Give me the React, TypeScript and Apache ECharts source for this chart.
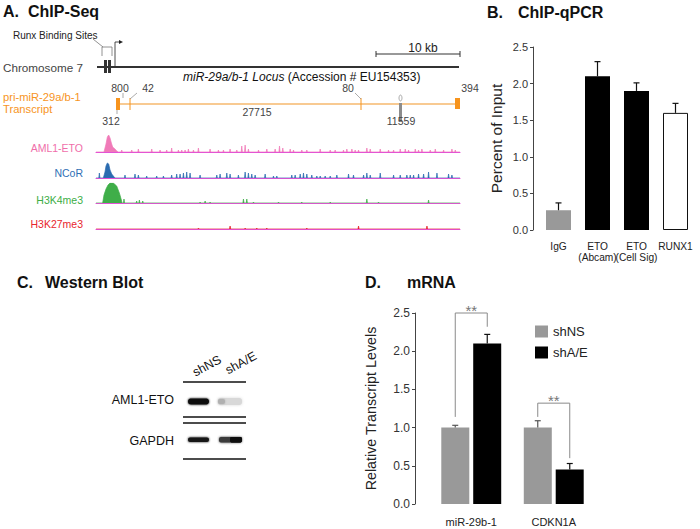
import React, { useEffect, useRef } from 'react';
import * as echarts from 'echarts';

// ---------- Panel A: ChIP-Seq tracks (position in kb, height in track units 0..20) ----------
const TRACK_KB = 43.3;
const trackNames = ['AML1-ETO', 'NCoR', 'H3K4me3', 'H3K27me3'];
const trackColors = ['#f07ab8', '#2b6cb0', '#3fae49', '#e31e24'];
const trackLabelColors = ['#f06eaa', '#2f6fb5', '#3cae45', '#e8262d'];

const amlProfile = [[0.95, 0], [1.19, 8], [1.35, 15], [1.51, 17], [1.67, 14], [1.83, 9], [1.98, 5], [2.26, 3], [2.46, 1], [2.66, 0]];
const amlSpikes = [[3.06, 2], [4.25, 2], [5.04, 3], [6.63, 3], [7.62, 2], [8.41, 2], [9.0, 4], [9.8, 2], [10.2, 2], [10.6, 2], [10.99, 3], [11.59, 2], [12.18, 4], [13.57, 3], [14.56, 2], [15.16, 2], [15.95, 3], [16.75, 2], [17.34, 6], [17.74, 7], [18.13, 3], [19.33, 2], [20.32, 3], [21.31, 3], [21.83, 6], [22.22, 4], [23.1, 3], [23.49, 2], [24.48, 2], [25.08, 2], [26.67, 3], [27.86, 2], [28.45, 2], [29.44, 2], [29.84, 3], [30.44, 3], [30.83, 2], [31.23, 2], [32.22, 4], [32.62, 3], [33.81, 3], [34.8, 2], [35.4, 2], [36.19, 3], [36.79, 3], [37.18, 2], [37.98, 3], [38.37, 2], [38.77, 3], [39.76, 2], [40.36, 3], [41.35, 2], [42.34, 3], [42.74, 2]];

const ncorProfile = [[0.87, 0], [1.07, 6], [1.19, 12], [1.35, 15], [1.51, 14], [1.67, 8], [1.87, 4], [2.06, 2], [2.26, 0]];
const ncorSpikes = [[0.4, 5], [3.45, 3], [4.64, 4], [5.04, 3], [6.03, 2], [7.22, 2], [8.02, 2], [9.0, 3], [9.6, 4], [10.0, 4], [10.4, 5], [10.79, 6], [11.19, 5], [12.38, 3], [14.37, 3], [14.76, 4], [15.56, 5], [15.95, 4], [16.94, 3], [17.74, 6], [18.13, 5], [18.53, 4], [18.93, 3], [20.12, 4], [21.11, 2], [21.51, 2], [23.29, 3], [23.69, 3], [24.29, 4], [24.68, 5], [25.08, 4], [25.67, 3], [26.27, 2], [26.67, 2], [27.26, 2], [27.86, 2], [28.65, 3], [30.04, 4], [30.63, 3], [31.83, 3], [32.22, 5], [32.62, 3], [33.81, 5], [35.4, 3], [36.19, 3], [36.98, 3], [37.38, 3], [37.78, 3], [38.37, 4], [38.97, 4], [39.56, 6], [40.56, 5], [41.94, 4], [42.34, 3]];

const h3k4Profile = [[0.79, 0], [0.95, 8], [1.19, 14], [1.43, 18], [1.67, 20], [2.06, 20], [2.46, 17], [2.78, 10], [3.02, 3], [3.1, 0]];
const h3k4Spikes = [[3.33, 4], [4.84, 2], [5.16, 3], [5.56, 2], [12.38, 1], [12.98, 2], [13.57, 1], [17.54, 4], [17.94, 4], [18.73, 1], [21.71, 1], [24.48, 1], [27.86, 1], [32.22, 4], [33.61, 1], [39.56, 3]];

const h3k27Profile: number[][] = [];
const h3k27Spikes = [[12.18, 1], [15.95, 3], [17.74, 1], [19.13, 1], [20.32, 1], [25.08, 1], [31.23, 3], [39.37, 3]];

// ---------- Panel B: ChIP-qPCR ----------
const chipCategories = ['IgG', 'ETO\n(Abcam)', 'ETO\n(Cell Sig)', 'RUNX1'];
const chipValues = [0.27, 2.1, 1.9, 1.6];
const chipErrTop = [0.37, 2.3, 2.01, 1.73];

// ---------- Panel D: mRNA ----------
const mrnaCategories = ['miR-29b-1', 'CDKN1A'];
const shNSValues = [1.0, 1.0];
const shNSErrTop = [1.03, 1.09];
const shAEValues = [2.1, 0.45];
const shAEErrTop = [2.22, 0.53];
// [category, left leg start, right leg end, top]
const sigBrackets = [[0, 1.14, 2.32, 2.5], [1, 1.14, 0.6, 1.32]];

const FONT = '"Liberation Sans", Arial, sans-serif';

function buildTrack(profile: number[][], spikes: number[][]) {
  const pts: number[][] = [[0, 0]];
  profile.forEach((p) => pts.push(p));
  spikes.forEach(([p, h]) => {
    pts.push([p - 0.07, 0], [p, h], [p + 0.07, 0]);
  });
  pts.push([TRACK_KB, 0]);
  pts.sort((a, b) => a[0] - b[0]);
  return pts;
}

const trackData = [
  buildTrack(amlProfile, amlSpikes),
  buildTrack(ncorProfile, ncorSpikes),
  buildTrack(h3k4Profile, h3k4Spikes),
  buildTrack(h3k27Profile, h3k27Spikes),
];

function errRender(offset: number, color: string) {
  return (params: any, api: any) => {
    const base = api.coord([api.value(0), api.value(1)]);
    const top = api.coord([api.value(0), api.value(2)]);
    const x = base[0] + offset;
    return {
      type: 'group',
      children: [
        { type: 'line', shape: { x1: x, y1: base[1], x2: x, y2: top[1] }, style: { stroke: color, lineWidth: 1.2 } },
        { type: 'line', shape: { x1: x - 3, y1: top[1], x2: x + 3, y2: top[1] }, style: { stroke: color, lineWidth: 1.2 } },
      ],
    };
  };
}

function bracketRender(params: any, api: any) {
  const i = api.value(0);
  const l = api.coord([i, api.value(1)]);
  const r = api.coord([i, api.value(2)]);
  const t = api.coord([i, api.value(3)]);
  const xl = l[0] - 16;
  const xr = l[0] + 16;
  return {
    type: 'group',
    children: [
      { type: 'polyline', shape: { points: [[xl, l[1]], [xl, t[1]], [xr, t[1]], [xr, r[1]]] }, style: { stroke: '#8a8a8a', lineWidth: 1, fill: null } },
      { type: 'text', style: { text: '**', x: (xl + xr) / 2, y: t[1] - 3, align: 'center', verticalAlign: 'middle', fill: '#777', fontSize: 15, fontFamily: FONT } },
    ],
  };
}

function txt(text: string, x: number, y: number, opts: any = {}) {
  const style: any = {
    text,
    x: 0,
    y: 0,
    fill: opts.fill || '#333',
    fontSize: opts.fontSize || 10,
    fontWeight: opts.fontWeight || 'normal',
    fontStyle: opts.fontStyle || 'normal',
    fontFamily: FONT,
    align: opts.align || 'left',
    verticalAlign: 'middle',
  };
  if (opts.rich) style.rich = opts.rich;
  return { type: 'text', x, y, rotation: opts.rotation || 0, style };
}

function ln(x1: number, y1: number, x2: number, y2: number, stroke: string, lineWidth = 1) {
  return { type: 'line', shape: { x1, y1, x2, y2 }, style: { stroke, lineWidth } };
}

function rect(x: number, y: number, width: number, height: number, fill: string, extra: any = {}) {
  return { type: 'rect', shape: { x, y, width, height, r: extra.r || 0 }, style: { fill, shadowBlur: extra.blur || 0, shadowColor: fill } };
}

export default function App() {
  const ref = useRef<HTMLDivElement>(null);
  useEffect(() => {
    if (!ref.current) return;
    const chart = echarts.init(ref.current, undefined, { renderer: 'svg' });
    const trackTops = [132, 158, 183, 209];

    const grids: any[] = trackTops.map((t) => ({ left: 96, top: t, width: 364, height: 20, outerBoundsMode: 'none' }));
    grids.push({ left: 539, top: 47, width: 156, height: 183, outerBoundsMode: 'none' });
    grids.push({ left: 430, top: 313, width: 165, height: 191, outerBoundsMode: 'none' });

    const xAxes: any[] = trackTops.map((_, i) => ({
      type: 'value', gridIndex: i, min: 0, max: TRACK_KB,
      axisLine: { show: true, onZero: true, lineStyle: { color: '#e352d6', width: 1 } },
      axisTick: { show: false }, axisLabel: { show: false }, splitLine: { show: false },
    }));
    xAxes.push({
      type: 'category', gridIndex: 4, data: chipCategories,
      axisLine: { show: false }, axisTick: { show: false },
      axisLabel: { interval: 0, margin: 11, fontSize: 10.2, lineHeight: 11, color: '#222', fontFamily: FONT },
    });
    xAxes.push({
      type: 'category', gridIndex: 5, data: mrnaCategories,
      axisLine: { show: false }, axisTick: { show: false },
      axisLabel: { interval: 0, margin: 12, fontSize: 11, color: '#222', fontFamily: FONT },
    });

    const yAxes: any[] = trackTops.map((_, i) => ({
      type: 'value', gridIndex: i, min: 0, max: 20, show: false,
    }));
    yAxes.push({
      type: 'value', gridIndex: 4, min: 0, max: 2.5, interval: 0.5, offset: 6,
      name: 'Percent of Input', nameLocation: 'middle', nameGap: 29, nameRotate: 90,
      nameTextStyle: { fontSize: 15.5, color: '#222', fontFamily: FONT },
      axisLine: { show: true, lineStyle: { color: '#444', width: 1 } },
      axisTick: { show: true, length: 3, lineStyle: { color: '#444' } },
      axisLabel: { margin: 5, fontSize: 11, color: '#333', fontFamily: FONT, formatter: (v: number) => v.toFixed(1) },
      splitLine: { show: false },
    });
    yAxes.push({
      type: 'value', gridIndex: 5, min: 0, max: 2.5, interval: 0.5, offset: 15,
      name: 'Relative Transcript Levels', nameLocation: 'middle', nameGap: 37, nameRotate: 90,
      nameTextStyle: { fontSize: 14.3, color: '#222', fontFamily: FONT },
      axisLine: { show: true, lineStyle: { color: '#444', width: 1 } },
      axisTick: { show: true, length: 3, lineStyle: { color: '#444' } },
      axisLabel: { margin: 5, fontSize: 12, color: '#333', fontFamily: FONT, formatter: (v: number) => v.toFixed(1) },
      splitLine: { show: false },
    });

    const series: any[] = trackData.map((d, i) => ({
      type: 'line', xAxisIndex: i, yAxisIndex: i, data: d, symbol: 'none',
      lineStyle: { color: trackColors[i], width: 0.7 },
      areaStyle: { color: trackColors[i], opacity: 1 },
      z: 3,
    }));

    series.push({
      type: 'bar', xAxisIndex: 4, yAxisIndex: 4, barWidth: 25,
      data: chipValues.map((v, i) => ({
        value: v,
        itemStyle: i === 0 ? { color: '#999999' } : i === 3 ? { color: '#ffffff', borderColor: '#111', borderWidth: 1 } : { color: '#000000' },
      })),
    });
    series.push({
      type: 'custom', xAxisIndex: 4, yAxisIndex: 4, z: 4,
      data: chipValues.map((v, i) => [i, v, chipErrTop[i]]),
      renderItem: errRender(0, '#111'),
    });

    series.push({
      name: 'shNS', type: 'bar', xAxisIndex: 5, yAxisIndex: 5, barWidth: 28, barGap: '14%',
      data: shNSValues, itemStyle: { color: '#999999' },
    });
    series.push({
      name: 'shA/E', type: 'bar', xAxisIndex: 5, yAxisIndex: 5, barWidth: 28, barGap: '14%',
      data: shAEValues, itemStyle: { color: '#000000' },
    });
    series.push({
      type: 'custom', xAxisIndex: 5, yAxisIndex: 5, z: 4,
      data: shNSValues.map((v, i) => [i, v, shNSErrTop[i]]),
      renderItem: errRender(-16, '#555'),
    });
    series.push({
      type: 'custom', xAxisIndex: 5, yAxisIndex: 5, z: 4,
      data: shAEValues.map((v, i) => [i, v, shAEErrTop[i]]),
      renderItem: errRender(16, '#111'),
    });
    series.push({
      type: 'custom', xAxisIndex: 5, yAxisIndex: 5, z: 4,
      data: sigBrackets, renderItem: bracketRender,
    });

    const orange = '#f7941d';
    const lightOrange = '#f6b86e';
    const graphic: any[] = [
      // titles
      txt('A.', 3, 11, { fontSize: 16, fontWeight: 'bold', fill: '#111' }),
      txt('ChIP-Seq', 28, 11, { fontSize: 16, fontWeight: 'bold', fill: '#111' }),
      txt('B.', 487, 12, { fontSize: 16, fontWeight: 'bold', fill: '#111' }),
      txt('ChIP-qPCR', 518, 12, { fontSize: 16, fontWeight: 'bold', fill: '#111' }),
      txt('C.', 17, 282, { fontSize: 16, fontWeight: 'bold', fill: '#111' }),
      txt('Western Blot', 45, 282, { fontSize: 16, fontWeight: 'bold', fill: '#111' }),
      txt('D.', 365, 282, { fontSize: 16, fontWeight: 'bold', fill: '#111' }),
      txt('mRNA', 407, 282, { fontSize: 16, fontWeight: 'bold', fill: '#111' }),

      // chromosome diagram
      txt('Runx Binding Sites', 13, 35, { fontSize: 10, fill: '#222' }),
      ln(93, 39, 103, 47, '#777', 0.8),
      { type: 'polyline', shape: { points: [[102, 56], [102, 47], [112, 47], [112, 56]] }, style: { stroke: '#777', lineWidth: 0.8, fill: null } },
      { type: 'polyline', shape: { points: [[115, 67], [115, 42], [120, 42]] }, style: { stroke: '#222', lineWidth: 0.8, fill: null } },
      { type: 'polygon', shape: { points: [[119, 40], [123, 42], [119, 44]] }, style: { fill: '#222' } },
      txt('Chromosome 7', 3, 67, { fontSize: 11.7, fill: '#444' }),
      ln(97, 67, 459, 67, '#333', 2),
      rect(104, 60, 3, 13, '#333'),
      rect(108, 60, 3, 13, '#333'),
      txt('10 kb', 423, 48, { fontSize: 12, fill: '#222', align: 'center' }),
      ln(376, 54, 460, 54, '#333', 1),
      ln(376, 51, 376, 57, '#333', 1),
      ln(460, 51, 460, 57, '#333', 1),
      txt('{i|miR-29a/b-1 Locus} (Accession # EU154353)', 183, 76.5, {
        fontSize: 12, fill: '#111',
        rich: { i: { fontStyle: 'italic', fontSize: 12, fill: '#111', fontFamily: FONT } },
      }),

      // transcript
      txt('pri-miR-29a/b-1', 3, 97, { fontSize: 11.2, fill: orange }),
      txt('Transcript', 3, 109, { fontSize: 11.2, fill: orange }),
      ln(118, 104, 456, 104, lightOrange, 1.3),
      rect(116, 98, 4, 12, orange),
      rect(455, 98, 5, 11, orange),
      ln(130, 98, 130, 110, orange, 1),
      ln(361, 98, 361, 110, orange, 1),
      rect(399, 103, 3, 19, '#8c8c8c'),
      { type: 'ellipse', shape: { cx: 400.5, cy: 98, rx: 1.5, ry: 3 }, style: { stroke: '#999', lineWidth: 0.8, fill: '#fff' } },
      ln(123, 93, 123, 98, '#888', 0.7),
      ln(137, 93, 130, 99, '#888', 0.7),
      ln(355, 93, 361, 99, '#888', 0.7),
      ln(117, 110, 117, 114, '#888', 0.7),
      txt('800', 120, 88, { fontSize: 10.5, fill: '#444', align: 'center' }),
      txt('42', 148, 88, { fontSize: 10.5, fill: '#444', align: 'center' }),
      txt('80', 348, 88, { fontSize: 10.5, fill: '#444', align: 'center' }),
      txt('394', 470, 88, { fontSize: 10.5, fill: '#444', align: 'center' }),
      txt('312', 111, 121, { fontSize: 10.5, fill: '#444', align: 'center' }),
      txt('27715', 257, 112, { fontSize: 10.5, fill: '#444', align: 'center' }),
      txt('11559', 401, 121, { fontSize: 10.5, fill: '#444', align: 'center' }),

      // western blot
      ln(183, 382, 246, 382, '#111', 1.5),
      ln(183, 417, 246, 417, '#111', 1.5),
      ln(183, 423, 246, 423, '#111', 1.5),
      ln(183, 459, 246, 459, '#111', 1.5),
      txt('AML1-ETO', 174, 400, { fontSize: 12.5, fill: '#111', align: 'right' }),
      txt('GAPDH', 174, 441, { fontSize: 12.5, fill: '#111', align: 'right' }),
      txt('shNS', 207, 366, { fontSize: 12.5, fill: '#111', align: 'center', rotation: 0.5 }),
      txt('shA/E', 241, 363, { fontSize: 12.5, fill: '#111', align: 'center', rotation: 0.5 }),
      rect(188, 398.5, 21, 6, '#111', { r: 3, blur: 2 }),
      rect(218, 398, 24, 7, '#d8d8d8', { r: 3, blur: 3 }),
      rect(218, 399, 7, 5, '#b0b0b0', { r: 2, blur: 2 }),
      rect(188, 437.5, 21, 4.5, '#151515', { r: 2, blur: 2 }),
      rect(219, 437, 23, 5.5, '#3a3a3a', { r: 2, blur: 2 }),
      rect(230, 437, 12, 5.5, '#111', { r: 2, blur: 1 }),
    ];

    // track labels
    const labelYs = [148, 173, 200, 224];
    trackNames.forEach((n, i) => graphic.push(txt(n, 83, labelYs[i], { fontSize: 10.5, fill: trackLabelColors[i], align: 'right' })));

    chart.setOption({
      animation: false,
      backgroundColor: '#ffffff',
      textStyle: { fontFamily: FONT },
      grid: grids,
      xAxis: xAxes,
      yAxis: yAxes,
      legend: {
        data: ['shNS', 'shA/E'], orient: 'vertical', left: 530, top: 320,
        itemWidth: 13, itemHeight: 12, itemGap: 8, icon: 'rect',
        textStyle: { fontSize: 13, color: '#222', fontFamily: FONT },
      },
      series,
      graphic,
    });
    return () => chart.dispose();
  }, []);
  return <div ref={ref} style={{ position: 'fixed', left: 0, top: 0, width: 700, height: 529, background: '#fff' }} />;
}
